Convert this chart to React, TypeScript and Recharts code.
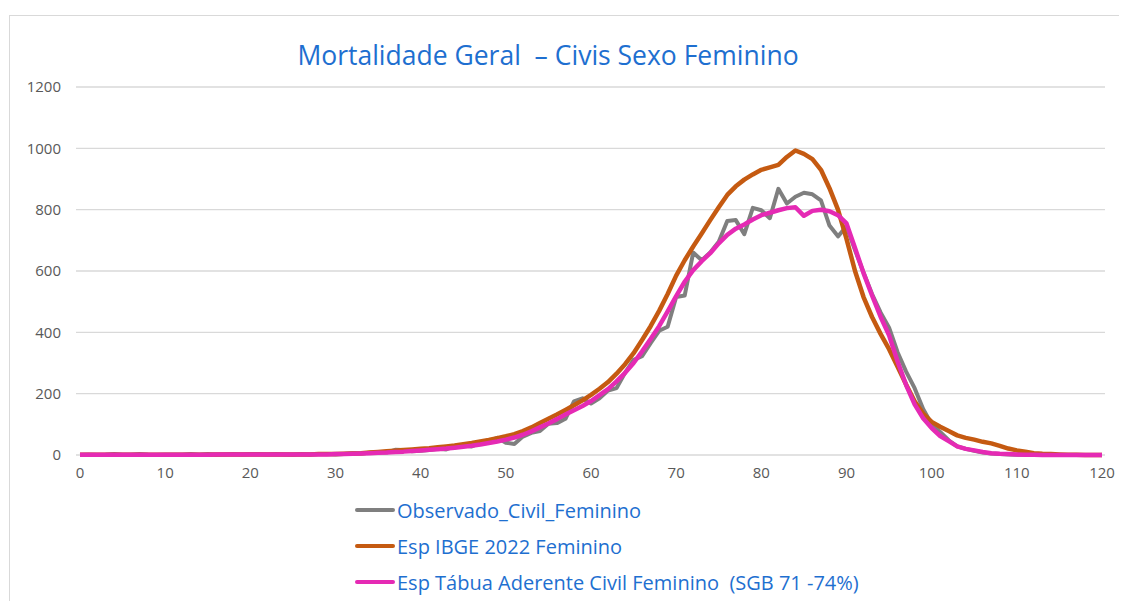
import React from "react";
import { LineChart, Line, XAxis, YAxis, CartesianGrid, Legend } from "recharts";

const ages: number[] = Array.from({ length: 121 }, (_, i) => i);

const observado: number[] = [
  0, 1, 0, 1, 3, 1, 1, 3, 1, 0,
  1, 1, 1, 3, 1, 3, 1, 2, 3, 2,
  3, 3, 2, 3, 2, 1, 3, 2, 3, 3,
  2, 3, 6, 5, 7, 9, 8, 17, 16, 12,
  14, 16, 20, 18, 30, 31, 28, 40, 45, 56,
  40, 36, 60, 72, 78, 102, 104, 118, 175, 185,
  168, 185, 210, 218, 268, 310, 322, 365, 405, 418,
  515, 520, 660, 635, 660, 695, 763, 766, 720, 806,
  798, 772, 868, 820, 842, 855, 850, 830, 748, 713,
  745, 668, 595, 525, 465, 415, 335, 272, 218, 150,
  100, 75, 48, 28, 20, 14, 8, 5, 3, 2,
  1, 1, 0, 0, 0, 0, 0, 0, 0, 0, 0,
];

const ibge: number[] = [
  1, 1, 1, 1, 1, 1, 1, 1, 1, 1,
  1, 1, 1, 1, 1, 1, 2, 2, 2, 2,
  2, 2, 2, 2, 2, 2, 2, 2, 3, 3,
  3, 4, 5, 6, 8, 10, 12, 14, 16, 18,
  20, 22, 25, 28, 31, 35, 39, 44, 49, 55,
  61, 68, 78, 90, 104, 118, 132, 147, 162, 178,
  196, 216, 238, 265, 296, 332, 375, 420, 470, 525,
  585, 635, 680, 722, 766, 808, 848, 876, 898, 915,
  930, 938, 946, 972, 993, 982, 965, 930, 870, 800,
  705, 600, 515, 450, 395, 345, 288, 230, 175, 135,
  108, 92, 78, 64, 56, 50, 43, 38, 30, 21,
  15, 11, 6, 4, 3, 2, 1, 1, 0, 0, 0,
];

const tabua: number[] = [
  1, 1, 1, 1, 1, 1, 1, 1, 1, 1,
  1, 1, 1, 1, 1, 1, 2, 2, 2, 2,
  2, 2, 2, 2, 2, 2, 2, 2, 2, 2,
  3, 3, 4, 5, 6, 7, 8, 10, 11, 13,
  15, 17, 19, 21, 24, 27, 30, 34, 39, 44,
  50, 57, 66, 77, 90, 103, 117, 132, 146, 160,
  176, 195, 215, 240, 268, 300, 338, 378, 420, 468,
  518, 565, 603, 632, 658, 690, 718, 738, 752, 768,
  782, 790, 798, 805, 808, 780, 796, 800, 795, 782,
  755, 675, 593, 520, 451, 390, 305, 228, 165, 120,
  88, 62, 45, 28, 20, 15, 10, 6, 4, 3,
  2, 1, 1, 0, 0, 0, 0, 0, 0, 0, 0,
];

const xTicks: number[] = [0, 10, 20, 30, 40, 50, 60, 70, 80, 90, 100, 110, 120];
const yTicks: number[] = [0, 200, 400, 600, 800, 1000, 1200];

const seriesKeys: string[] = ["obs", "ibge", "tabua"];
const seriesNames: Record<string, string> = {
  obs: "Observado_Civil_Feminino",
  ibge: "Esp IBGE 2022 Feminino",
  tabua: "Esp Tábua Aderente Civil Feminino  (SGB 71 -74%)",
};

const title = "Mortalidade Geral  – Civis Sexo Feminino";

const COLORS: Record<string, string> = { obs: "#7F7F7F", ibge: "#C55A11", tabua: "#E52AB4" };
const BLUE = "#1E6FD0";
const FONT = "'Open Sans', Lato, sans-serif";

const data = ages.map((age, i) => ({
  age,
  obs: observado[i],
  ibge: ibge[i],
  tabua: tabua[i],
}));

const renderLegend = (props: any) => {
  const items = [...(props.payload || [])].sort(
    (a: any, b: any) => seriesKeys.indexOf(a.dataKey) - seriesKeys.indexOf(b.dataKey)
  );
  return (
    <div style={{ fontFamily: FONT }}>
      {items.map((it: any) => (
        <div
          key={it.value}
          style={{ display: "flex", alignItems: "center", height: 36, whiteSpace: "pre" }}
        >
          <svg width={40} height={8} style={{ marginRight: 2 }}>
            <line x1={2} y1={4} x2={38} y2={4} stroke={it.color} strokeWidth={4} strokeLinecap="round" />
          </svg>
          <span style={{ color: BLUE, fontSize: 20 }}>{it.value}</span>
        </div>
      ))}
    </div>
  );
};

export default function App() {
  return (
    <div style={{ position: "relative", width: 1111, height: 593, fontFamily: FONT }}>
      <style>{`html,body{overflow:hidden}`}</style>
      <div
        style={{
          position: "absolute",
          left: 1,
          top: 7,
          width: 1120,
          height: 600,
          borderTop: "1px solid #D9D9D9",
          borderLeft: "1px solid #D9D9D9",
        }}
      />
      <div
        style={{
          position: "absolute",
          left: 0,
          top: 32,
          width: 1080,
          textAlign: "center",
          color: BLUE,
          fontSize: 26.5,
          lineHeight: "30px",
          whiteSpace: "pre",
        }}
      >
        {title}
      </div>
      <div style={{ position: "absolute", left: 2, top: 8 }}>
        <LineChart
          width={1117}
          height={585}
          data={data}
          margin={{ top: 71, right: 22, bottom: 116, left: 0 }}
        >
          <CartesianGrid horizontal={true} vertical={false} stroke="#D9D9D9" strokeWidth={1.3} />
          <XAxis
            dataKey="age"
            type="number"
            domain={[0, 120]}
            ticks={xTicks}
            interval={0}
            padding={{ left: 4, right: 3 }}
            axisLine={false}
            tickLine={false}
            tickMargin={6}
            height={30}
            tick={{ fill: "#595959", fontSize: 15, fontFamily: FONT }}
          />
          <YAxis
            type="number"
            domain={[0, 1200]}
            ticks={yTicks}
            interval={0}
            width={66}
            axisLine={false}
            tickLine={false}
            tickMargin={9}
            tick={{ fill: "#595959", fontSize: 15, fontFamily: FONT }}
          />
          <Legend
            layout="vertical"
            align="center"
            verticalAlign="middle"
            content={renderLegend}
            wrapperStyle={{ left: 345, top: 476, width: 560 }}
          />
          <Line
            type="linear"
            dataKey="obs"
            name={seriesNames.obs}
            stroke={COLORS.obs}
            strokeWidth={4}
            dot={false}
            strokeLinejoin="round"
            isAnimationActive={false}
          />
          <Line
            type="linear"
            dataKey="ibge"
            name={seriesNames.ibge}
            stroke={COLORS.ibge}
            strokeWidth={4.5}
            dot={false}
            strokeLinejoin="round"
            isAnimationActive={false}
          />
          <Line
            type="linear"
            dataKey="tabua"
            name={seriesNames.tabua}
            stroke={COLORS.tabua}
            strokeWidth={4.5}
            dot={false}
            strokeLinejoin="round"
            isAnimationActive={false}
          />
        </LineChart>
      </div>
    </div>
  );
}
